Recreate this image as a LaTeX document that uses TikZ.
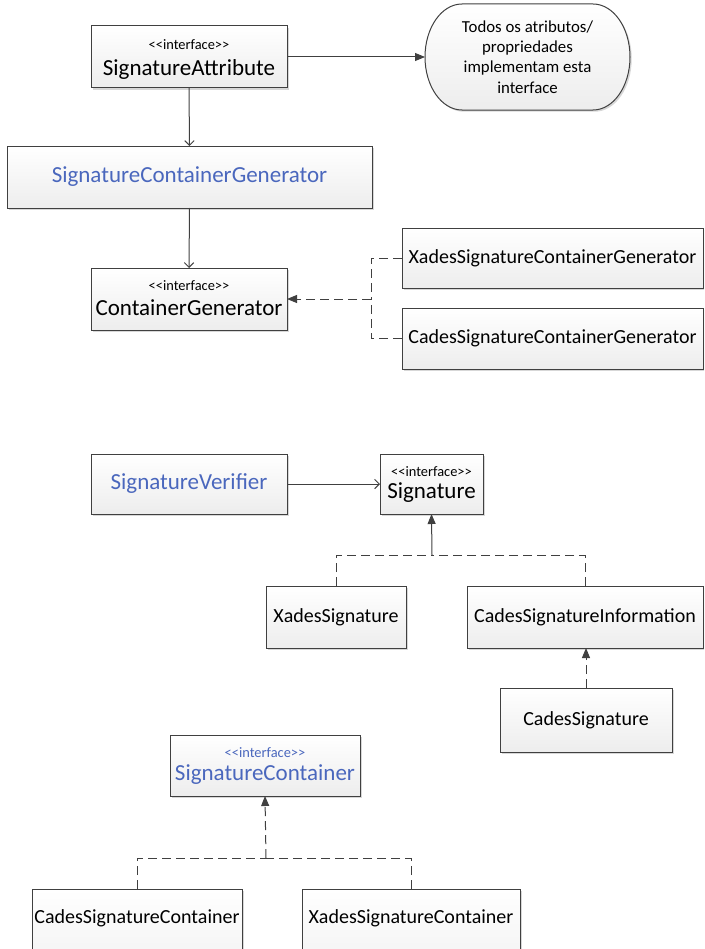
\documentclass[tikz,border=0pt]{standalone}
\usepackage{fontspec}
\setmainfont{Carlito}[Ligatures=TeXOff]
\usetikzlibrary{fit,shadows,arrows.meta,calc}
\definecolor{ln}{HTML}{404040}
\definecolor{bl}{HTML}{4A67BD}
\definecolor{bx}{HTML}{EDEDED}
\tikzset{
 boxlook/.style={draw=ln, line width=0.75pt, top color=white, bottom color=bx,
   drop shadow={shadow xshift=1.3pt, shadow yshift=-1.3pt, fill=black!35, opacity=0.45}},
 box/.style={boxlook, inner sep=0pt, outer sep=0pt},
 big/.style={font=\fontsize{17.25}{20}\selectfont, inner sep=0pt},
 mid/.style={font=\fontsize{15}{18}\selectfont, inner sep=0pt},
 stereo/.style={font=\fontsize{10.8}{13}\selectfont, inner sep=0pt},
 note/.style={font=\fontsize{12.6}{15.2}\selectfont, align=center, inner sep=0pt},
 conn/.style={draw=ln, line width=0.75pt},
 dsh/.style={conn, dash pattern=on 6.75pt off 3.75pt},
 fillhead/.style={-{Triangle[length=7.5pt,width=6pt]}},
 openhead/.style={-{Straight Barb[length=3.5pt,width=7pt]}},
}
\begin{document}
\begin{tikzpicture}[x=0.75pt,y=-0.75pt]
\useasboundingbox (0,0) rectangle (704,949);
\clip (0,0) rectangle (704,949);

% top section
\node[box, fit={(91,26) (287,88)}] (sa) {};
\node[stereo] (saS) at ($(sa.center)+(0,-12)$) {<<interface>>};
\node[big] (saT) at ($(sa.center)+(0,12)$) {SignatureAttribute};

% note shape (stadium with elliptical ends)
\path[boxlook] (462,4) -- (593,4)
   arc[start angle=90, end angle=-90, x radius=27.75pt, y radius=39.75pt]
   -- (462,110)
   arc[start angle=270, end angle=90, x radius=27.75pt, y radius=39.75pt] -- cycle;
\node[inner sep=0pt, outer sep=0pt, fit={(425,4) (630,110)}] (ell) {};
\node[note] (ellT) at (ell.center) {Todos os atributos/\\propriedades\\implementam esta\\interface};

\node[box, fit={(7,146) (372,208)}] (scg) {};
\node[big, text=bl] (scgT) at (scg.center) {SignatureContainerGenerator};

\node[box, fit={(91,268) (287,330)}] (cg) {};
\node[stereo] (cgS) at ($(cg.center)+(0,-13)$) {<<interface>>};
\node[big] (cgT) at ($(cg.center)+(0,9)$) {ContainerGenerator};

\node[box, fit={(402,228) (703,288)}] (xscg) {};
\node[mid] (xscgT) at (xscg.center) {XadesSignatureContainerGenerator};
\node[box, fit={(402,308) (703,369)}] (cscg) {};
\node[mid] (cscgT) at (cscg.center) {CadesSignatureContainerGenerator};

% middle section
\node[box, fit={(91,454) (287,514)}] (sv) {};
\node[big, text=bl] (svT) at (sv.center) {SignatureVerifier};

\node[box, fit={(380,454) (483,514)}] (sig) {};
\node[stereo] (sigS) at ($(sig.center)+(0,-12)$) {<<interface>>};
\node[big] (sigT) at ($(sig.center)+(0,9)$) {Signature};

\node[box, fit={(266,586) (406,648)}] (xs) {};
\node[mid] (xsT) at (xs.center) {XadesSignature};
\node[box, fit={(467,586) (703,648)}] (csi) {};
\node[mid] (csiT) at (csi.center) {CadesSignatureInformation};
\node[box, fit={(500,688) (672,752)}] (cs) {};
\node[mid] (csT) at (cs.center) {CadesSignature};

% bottom section
\node[box, fit={(170,735) (360,796)}] (sc) {};
\node[stereo, text=bl] (scS) at ($(sc.center)+(0,-13)$) {<<interface>>};
\node[big, text=bl] (scT) at ($(sc.center)+(0,9)$) {SignatureContainer};

\node[box, fit={(32,889) (242,1002)}] (csc) {};
\node[mid] (cscT) at (137,918) {CadesSignatureContainer};
\node[box, fit={(302,889) (520,1002)}] (xsc) {};
\node[mid] (xscT) at (411,918) {XadesSignatureContainer};

% connectors
\draw[conn, fillhead] (sa.east) -- (ell.west);
\draw[conn, openhead] (sa.south) -- (scg.north);
\draw[conn, openhead] (scg.south) -- (cg.north);

\coordinate (j1) at (371,299);
\draw[dsh] (xscg.west) -| (j1);
\draw[dsh] (cscg.west) -| (j1);
\draw[dsh, fillhead] (j1) -- (cg.east);

\draw[conn, openhead] (sv.east) -- (sig.west);
\coordinate (j2) at (432,555);
\draw[dsh] (xs.north) |- (j2);
\draw[dsh] (csi.north) |- (j2);
\draw[conn, fillhead] (j2) -- (sig.south);
\draw[dsh, fillhead] (cs.north) -- (cs.north |- csi.south);

\coordinate (j3) at (266,858);
\draw[dsh] (csc.north) |- (j3);
\draw[dsh] (xsc.north) |- (j3);
\draw[dsh, fillhead] (j3) -- (sc.south);
\end{tikzpicture}
\end{document}
